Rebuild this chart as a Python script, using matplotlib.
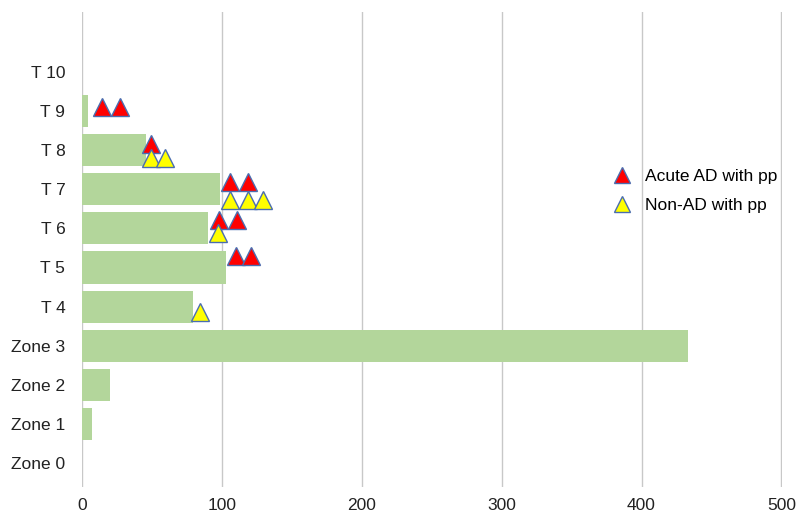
import matplotlib.pyplot as plt

# categories, bottom to top
categories = ["Zone 0", "Zone 1", "Zone 2", "Zone 3", "T 4", "T 5", "T 6", "T 7", "T 8", "T 9", "T 10"]
counts = [0, 7, 20, 433, 79, 103, 90, 98.5, 46, 4, 0]

# Acute AD with pp (x value, y position on category scale)
acute_x = [14, 27, 49, 106, 119, 98, 110.5, 110, 121]
acute_y = [9.1, 9.1, 8.16, 7.19, 7.19, 6.21, 6.21, 5.29, 5.29]

# Non-AD with pp
nonad_x = [49, 59, 106, 119, 129.5, 97, 84]
nonad_y = [7.81, 7.81, 6.73, 6.73, 6.73, 5.89, 3.87]

plt.rcParams['font.family'] = ['Liberation Sans', 'DejaVu Sans']

fig = plt.figure(figsize=(7.97, 5.15), dpi=100)
ax = fig.add_axes([82/797, 1 - 487/515, 700/797, 475/515])

ypos = list(range(len(categories)))
ax.barh(ypos, counts, height=0.82, color='#b3d69b', zorder=2)

ax.plot(acute_x, acute_y, linestyle='none', marker='^', ms=13,
        markerfacecolor='#ff0000', markeredgecolor='#4a6db0', markeredgewidth=1,
        label='Acute AD with pp', zorder=3)
ax.plot(nonad_x, nonad_y, linestyle='none', marker='^', ms=13,
        markerfacecolor='#ffff00', markeredgecolor='#4a6db0', markeredgewidth=1,
        label='Non-AD with pp', zorder=3)

ax.set_xlim(0, 500.4)
ax.set_ylim(-0.61, 11.53)
ax.set_xticks([0, 100, 200, 300, 400, 500])
ax.set_yticks(ypos)
ax.set_yticklabels(categories)
ax.tick_params(axis='both', length=0, labelsize=12.5, colors='#222222')
ax.tick_params(axis='x', pad=8)
ax.tick_params(axis='y', pad=12)

ax.grid(axis='x', color='#c8c8c8', linewidth=1, zorder=0)
ax.set_axisbelow(True)
for s in ax.spines.values():
    s.set_visible(False)

ax.legend(loc='center left', bbox_to_anchor=((596 - 82) / 700, 1 - (191 - 12) / 475),
          frameon=False, fontsize=12.5, handletextpad=0.3, labelspacing=0.8,
          markerscale=0.85, borderpad=0)

fig.savefig('out.png', dpi=100)
